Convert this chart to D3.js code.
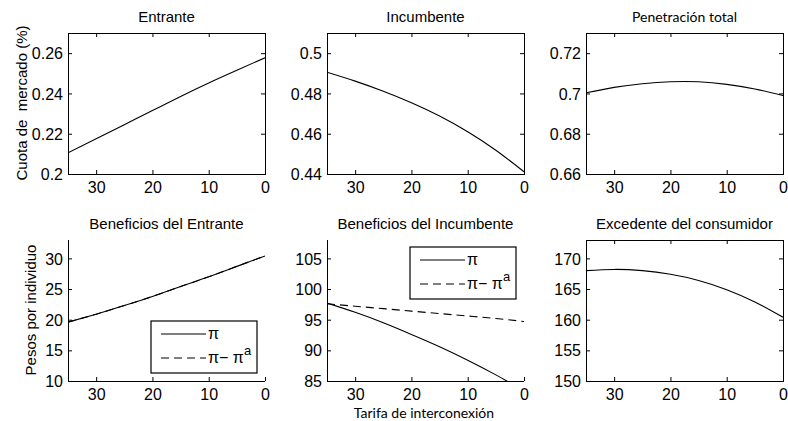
<!DOCTYPE html>
<html>
<head>
<meta charset="utf-8">
<script src="https://cdn.jsdelivr.net/npm/d3@7"></script>
<style>
  body { margin: 0; background: #fff; }
  text { font-family: "Liberation Sans", Arial, sans-serif; fill: #000; }
</style>
</head>
<body>
<div id="chart"></div>
<script>
// tarifa de interconexion (eje x, invertido)
var tarifa = [35, 30, 25, 20, 15, 10, 5, 0];

var cuotaEntrante   = [0.2105, 0.2175, 0.2245, 0.2315, 0.2385, 0.2452, 0.2515, 0.2577];
var cuotaIncumbente = [0.4905, 0.4861, 0.4811, 0.4754, 0.4688, 0.4610, 0.4518, 0.4411];
var penetracion     = [0.7003, 0.7030, 0.7048, 0.7058, 0.7058, 0.7045, 0.7022, 0.6990];

var benefEntrante       = [19.6, 20.9, 22.3, 23.8, 25.4, 27.0, 28.7, 30.4];
var benefEntranteNeto   = [19.6, 20.9, 22.3, 23.8, 25.4, 27.0, 28.7, 30.4];
var benefIncumbente     = [97.7, 96.2, 94.5, 92.6, 90.6, 88.4, 86.0, 83.4];
var benefIncumbenteNeto = [97.6, 97.2, 96.8, 96.4, 96.0, 95.6, 95.2, 94.7];
var excedente           = [168.0, 168.2, 168.0, 167.4, 166.4, 164.9, 162.9, 160.4];

var xTicks = [30, 20, 10, 0];

var panels = [
  {title: "Entrante", col: 0, row: 0, y: [0.2, 0.27], ticks: [0.2, 0.22, 0.24, 0.26], series: [cuotaEntrante], box: true},
  {title: "Incumbente", col: 1, row: 0, y: [0.44, 0.51], ticks: [0.44, 0.46, 0.48, 0.5], series: [cuotaIncumbente], box: true},
  {title: "Penetración total", col: 2, row: 0, y: [0.66, 0.73], ticks: [0.66, 0.68, 0.7, 0.72], series: [penetracion], box: true, alt: true},
  {title: "Beneficios del Entrante", col: 0, row: 1, y: [10, 33], ticks: [10, 15, 20, 25, 30], series: [benefEntrante, benefEntranteNeto], legend: "bottom"},
  {title: "Beneficios del Incumbente", col: 1, row: 1, y: [85, 108], ticks: [85, 90, 95, 100, 105], series: [benefIncumbente, benefIncumbenteNeto], legend: "top"},
  {title: "Excedente del consumidor", col: 2, row: 1, y: [150, 173], ticks: [150, 155, 160, 165, 170], series: [excedente], box: true}
];

var width = 788, height = 421;
var lefts = [68, 327, 586], pw = 197;
var tops = [33, 240], ph = 141;

var svg = d3.select("#chart").append("svg")
  .attr("width", width)
  .attr("height", height);

var dashes = [null, "8,5"];

panels.forEach(function(p, i) {
  var x0 = lefts[p.col], y0 = tops[p.row];
  var g = svg.append("g").attr("transform", "translate(" + x0 + "," + y0 + ")");

  var x = d3.scaleLinear().domain([35, 0]).range([0, pw]);
  var y = d3.scaleLinear().domain(p.y).range([ph, 0]);

  g.append("clipPath").attr("id", "clip" + i)
    .append("rect").attr("width", pw).attr("height", ph);

  var line = d3.line()
    .x(function(d, j) { return x(tarifa[j]); })
    .y(function(d) { return y(d); })
    .curve(d3.curveNatural);

  p.series.forEach(function(s, k) {
    g.append("path")
      .datum(s)
      .attr("clip-path", "url(#clip" + i + ")")
      .attr("fill", "none")
      .attr("stroke", "#000")
      .attr("stroke-width", 1.1)
      .attr("stroke-dasharray", dashes[k])
      .attr("d", line);
  });

  // ticks hacia dentro, estilo matlab
  var xAx = d3.axisBottom(x).tickValues(xTicks).tickSize(-4).tickPadding(0).tickFormat(d3.format("d"));
  var yAx = d3.axisLeft(y).tickValues(p.ticks).tickSize(-4).tickPadding(0).tickFormat(function(d) { return String(d); });

  var gx = g.append("g").attr("transform", "translate(0," + ph + ")").call(xAx);
  var gy = g.append("g").call(yAx);
  [gx, gy].forEach(function(a) {
    a.attr("font-family", null);
    a.select(".domain").remove();
    a.selectAll("line").attr("stroke", "#000");
    a.selectAll("text").style("font-size", "16px").attr("fill", "#000");
  });
  gx.selectAll("text").attr("y", 19).attr("dy", null);
  gy.selectAll("text").attr("x", -5).attr("dy", "0.35em");

  if (p.box) {
    g.append("g").call(d3.axisTop(x).tickValues(xTicks).tickSize(-4).tickFormat(""))
      .call(function(a) { a.select(".domain").remove(); a.selectAll("line").attr("stroke", "#000"); });
    g.append("g").attr("transform", "translate(" + pw + ",0)")
      .call(d3.axisRight(y).tickValues(p.ticks).tickSize(-4).tickFormat(""))
      .call(function(a) { a.select(".domain").remove(); a.selectAll("line").attr("stroke", "#000"); });
    g.append("rect").attr("x", 0.5).attr("y", 0.5).attr("width", pw).attr("height", ph)
      .attr("fill", "none").attr("stroke", "#000").attr("stroke-width", 1);
  } else {
    g.append("path").attr("d", "M0.5,0V" + (ph + 0.5) + "H" + pw)
      .attr("fill", "none").attr("stroke", "#000").attr("stroke-width", 1);
  }

  g.append("text")
    .attr("x", pw / 2)
    .attr("y", -11)
    .attr("text-anchor", "middle")
    .style("font-family", p.alt ? "Lato, sans-serif" : null)
    .style("font-size", p.alt ? "14px" : "15px")
    .text(p.title);

  if (p.legend) {
    var lx = pw - 114, ly = p.legend === "top" ? 7 : 81;
    var lg = g.append("g").attr("transform", "translate(" + lx + "," + ly + ")");
    lg.append("rect").attr("width", 106).attr("height", 52)
      .attr("fill", "#fff").attr("stroke", "#000").attr("stroke-width", 1.2);
    var labels = [["π"], ["π− π", "a"]];
    labels.forEach(function(lab, k) {
      var yy = 13 + k * 24;
      lg.append("line").attr("x1", 10).attr("x2", 55).attr("y1", yy).attr("y2", yy)
        .attr("stroke", "#000").attr("stroke-width", 1.1).attr("stroke-dasharray", dashes[k]);
      var t = lg.append("text").attr("x", 57).attr("y", yy + 5).style("font-size", "16px");
      t.append("tspan").text(lab[0]);
      if (lab[1]) t.append("tspan").attr("dy", -8).style("font-size", "13px").text(lab[1]);
    });
  }
});

svg.append("text")
  .attr("transform", "translate(27,103) rotate(-90)")
  .attr("text-anchor", "middle")
  .style("font-size", "15px")
  .style("white-space", "pre")
  .text("Cuota de  mercado (%)");

svg.append("text")
  .attr("transform", "translate(36,310) rotate(-90)")
  .attr("text-anchor", "middle")
  .style("font-size", "15px")
  .text("Pesos por individuo");

svg.append("text")
  .attr("x", 424)
  .attr("y", 418)
  .attr("text-anchor", "middle")
  .style("font-family", "Lato, sans-serif")
  .style("font-size", "14px")
  .text("Tarifa de interconexión");
</script>
</body>
</html>
